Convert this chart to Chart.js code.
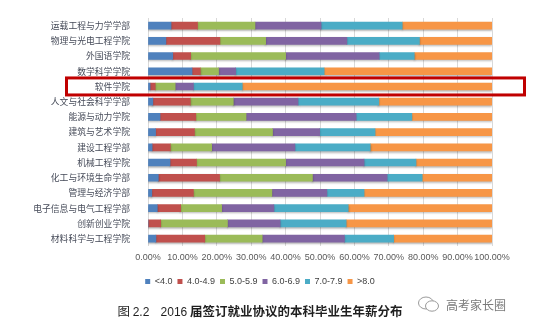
<!DOCTYPE html>
<html>
<head>
<meta charset="utf-8">
<script src="https://cdn.jsdelivr.net/npm/chart.js@4"></script>
<style>
  html, body { margin: 0; padding: 0; background: #fff; }
  #wrap { position: relative; width: 550px; height: 328px; }
  #salaryChart { position: absolute; left: 0; top: 0; }
  .caption { position: absolute; left: 0; width: 520px; top: 302px; line-height: 18px; text-align: center;
             font-family: 'Noto Sans CJK SC', sans-serif; font-size: 12.5px; color: #1f1f1f; white-space: pre; }
  .caption .num { font-family: 'Liberation Sans', Arial, sans-serif; font-size: 12px; }
  .caption b { font-weight: bold; }
  .mark { position: absolute; left: 417px; top: 294px; height: 20px; display: flex; align-items: center;
          font-family: 'Noto Sans CJK SC', sans-serif; font-size: 12px; color: #7a7a7a; }
  .mark svg { margin-right: 5px; }
</style>
</head>
<body>
<div id="wrap">
  <canvas id="salaryChart" width="550" height="328"></canvas>
  <div class="caption">图 <span class="num">2.2</span>    <span class="num">2016</span> <b>届签订就业协议的本科毕业生年薪分布</b></div>
  <div class="mark">
    <svg width="24" height="18" viewBox="0 0 24 18">
      <ellipse cx="9" cy="8" rx="7.5" ry="6" fill="none" stroke="#9a9a9a" stroke-width="1"/>
      <ellipse cx="15" cy="11" rx="6.5" ry="5.2" fill="#fff" stroke="#9a9a9a" stroke-width="1"/>
    </svg>
    <span>高考家长圈</span>
  </div>
</div>
<script>
// 学院 (从上到下)
const categories = [
    '运载工程与力学学部', '物理与光电工程学院', '外国语学院', '数学科学学院', '软件学院',
    '人文与社会科学学部', '能源与动力学院', '建筑与艺术学院', '建设工程学部', '机械工程学院',
    '化工与环境生命学部', '管理与经济学部', '电子信息与电气工程学部', '创新创业学院', '材料科学与工程学院'
];

// 年薪区间 (万元), 各学院所占百分比
const seriesNames = ['<4.0', '4.0-4.9', '5.0-5.9', '6.0-6.9', '7.0-7.9', '>8.0'];
const below4  = [6.7, 5.2, 7.2, 12.8, 0.6, 1.4, 3.5, 2.2, 1.2, 6.4, 3.0, 1.1, 2.7, 0.0, 2.3];
const from4   = [7.7, 15.7, 5.2, 2.4, 1.5, 10.9, 10.4, 11.3, 5.3, 7.7, 17.8, 12.1, 6.8, 3.7, 14.2];
const from5   = [16.7, 13.3, 27.6, 5.3, 5.8, 12.5, 14.6, 22.7, 12.0, 25.9, 27.0, 22.8, 11.9, 19.4, 16.7];
const from6   = [19.2, 23.6, 27.2, 5.0, 5.3, 18.8, 32.0, 13.7, 24.2, 22.8, 21.7, 16.0, 15.2, 15.3, 23.9];
const from7   = [23.6, 21.1, 10.2, 25.7, 14.2, 23.5, 16.2, 16.1, 21.9, 15.1, 10.2, 10.8, 21.6, 19.2, 14.3];
const above8  = [26.1, 21.1, 22.6, 48.8, 72.6, 32.9, 23.3, 34.0, 35.4, 22.1, 20.3, 37.2, 41.8, 42.4, 28.6];

const xTicks = [0, 10, 20, 30, 40, 50, 60, 70, 80, 90, 100];
const highlightRow = '软件学院';

const colors = ['#4f81bd', '#c0504d', '#9bbb59', '#8064a2', '#4bacc6', '#f79646'];
const seriesData = [below4, from4, from5, from6, from7, above8];

const cjk = "'Noto Sans CJK SC', sans-serif";
const latin = "'Liberation Sans', Arial, sans-serif";

// 柱子下方的淡阴影
const barShadow = {
    id: 'barShadow',
    beforeDatasetsDraw(chart) {
        const c = chart.ctx;
        c.save();
        c.shadowColor = 'rgba(0,0,0,0.28)';
        c.shadowOffsetY = 1.5;
        c.shadowBlur = 2;
    },
    afterDatasetsDraw(chart) {
        chart.ctx.restore();
    }
};

// 红框标出软件学院
const highlightBox = {
    id: 'highlightBox',
    afterDraw(chart) {
        const c = chart.ctx;
        const y = chart.scales.y.getPixelForValue(categories.indexOf(highlightRow));
        const area = chart.chartArea;
        c.save();
        c.strokeStyle = '#c00000';
        c.lineWidth = 3;
        c.strokeRect(area.left - 81.5, y - 8.5, area.right - area.left + 114, 17);
        c.restore();
    }
};

new Chart(document.getElementById('salaryChart'), {
    type: 'bar',
    data: {
        labels: categories,
        datasets: seriesNames.map((name, i) => ({
            label: name,
            data: seriesData[i],
            backgroundColor: colors[i],
            borderWidth: 0,
            barThickness: 7
        }))
    },
    options: {
        indexAxis: 'y',
        responsive: false,
        animation: false,
        // 下方留出图题位置
        layout: { padding: { top: 18, left: 28, right: 58, bottom: 32 } },
        scales: {
            x: {
                stacked: true,
                min: 0,
                max: 100,
                afterBuildTicks(scale) { scale.ticks = xTicks.map(v => ({ value: v })); },
                afterFit(scale) { scale.height += 3; },
                grid: { color: '#d9d9d9', drawTicks: false },
                border: { display: false },
                ticks: {
                    autoSkip: false,
                    maxRotation: 0,
                    padding: 6,
                    color: '#595959',
                    font: { family: latin, size: 9 },
                    callback: v => v.toFixed(2) + '%'
                }
            },
            y: {
                stacked: true,
                afterFit(scale) { scale.width = 120; },
                grid: { display: false },
                border: { display: false },
                ticks: {
                    padding: 10,
                    color: '#454a58',
                    font: { family: cjk, size: 8.8 }
                }
            }
        },
        plugins: {
            legend: {
                position: 'bottom',
                labels: {
                    boxWidth: 5,
                    boxHeight: 5,
                    padding: 5,
                    color: '#404040',
                    font: { family: latin, size: 9 }
                }
            },
            title: { display: false },
            tooltip: { enabled: false }
        }
    },
    plugins: [barShadow, highlightBox]
});
</script>
</body>
</html>
